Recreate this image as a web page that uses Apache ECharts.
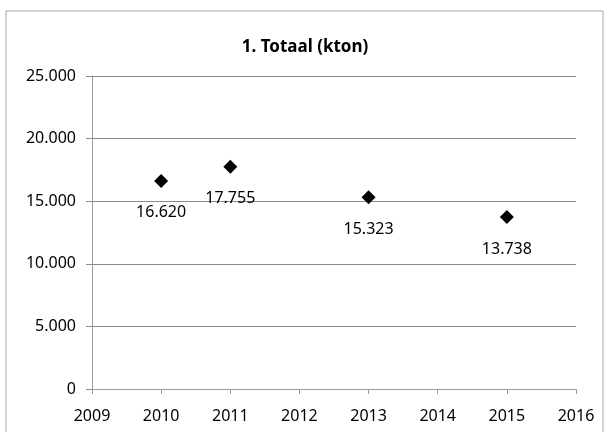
<!DOCTYPE html>
<html>
<head>
<meta charset="utf-8">
<script src="https://cdn.jsdelivr.net/npm/echarts@6/dist/echarts.min.js"></script>
<style>html,body{margin:0;padding:0;background:#fff}#c{width:610px;height:432px}</style>
</head>
<body>
<div id="c"></div>
<script>
var years = [2010, 2011, 2013, 2015];
var values = [16620, 17755, 15323, 13738];
var titleText = '1. Totaal (kton)';

function nl(v) {
  return String(v).replace(/\B(?=(\d{3})+(?!\d))/g, '.');
}

var chart = echarts.init(document.getElementById('c'), null, {renderer: 'canvas'});
var fontFam = '"Noto Sans", "Open Sans", sans-serif';
chart.setOption({
  animation: false,
  backgroundColor: '#fff',
  title: {
    text: titleText,
    left: 'center',
    top: 34,
    textStyle: {fontFamily: fontFam, fontSize: 17, fontWeight: 'bold', color: '#000'}
  },
  graphic: [{
    type: 'rect',
    shape: {x: 6, y: 11, width: 597, height: 440},
    style: {fill: 'none', stroke: '#a6a6a6', lineWidth: 1},
    silent: true
  }],
  grid: {left: 92, right: 34, top: 76, bottom: 43, containLabel: false},
  xAxis: {
    type: 'value',
    min: 2009, max: 2016, interval: 1,
    axisLine: {show: true, lineStyle: {color: '#9a9a9a', width: 1}},
    axisTick: {show: true, length: 5, lineStyle: {color: '#9a9a9a'}},
    splitLine: {show: false},
    axisLabel: {
      formatter: function (v) { return String(v); },
      fontFamily: fontFam, fontSize: 16, color: '#000', margin: 19
    }
  },
  yAxis: {
    type: 'value',
    min: 0, max: 25000, interval: 5000,
    axisLine: {show: true, lineStyle: {color: '#9a9a9a', width: 1}},
    axisTick: {show: true, length: 6, lineStyle: {color: '#8a8a8a'}},
    splitLine: {show: true, lineStyle: {color: '#8a8a8a', width: 1}},
    axisLabel: {
      formatter: function (v) { return nl(v); },
      fontFamily: fontFam, fontSize: 16, color: '#000', margin: 16
    }
  },
  series: [{
    type: 'scatter',
    symbol: 'diamond',
    symbolSize: 14,
    itemStyle: {color: '#000', opacity: 1},
    data: years.map(function (y, i) { return [y, values[i]]; }),
    label: {
      show: true,
      position: 'bottom',
      distance: 17,
      formatter: function (p) { return nl(p.value[1]); },
      fontFamily: fontFam, fontSize: 16, color: '#000'
    }
  }]
});
</script>
</body>
</html>
